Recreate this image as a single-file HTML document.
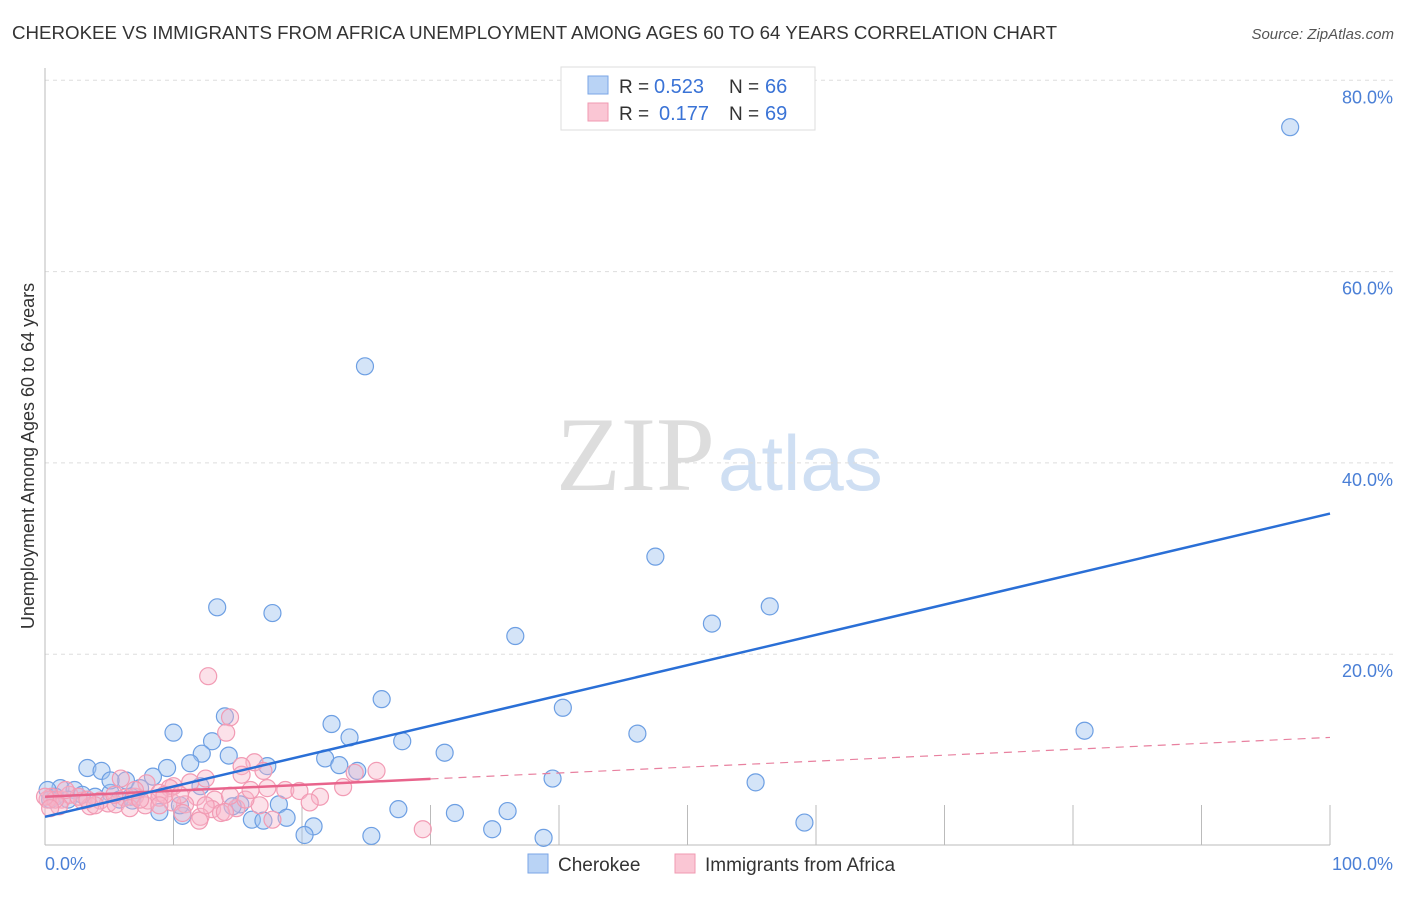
<!DOCTYPE html>
<html><head><meta charset="utf-8"><style>
body{margin:0;background:#fff;font-family:"Liberation Sans",sans-serif}
</style></head><body>
<svg id="c" width="1406" height="892" xmlns="http://www.w3.org/2000/svg">
<text x="12" y="39" font-size="18" fill="#333" textLength="1045" lengthAdjust="spacingAndGlyphs">CHEROKEE VS IMMIGRANTS FROM AFRICA UNEMPLOYMENT AMONG AGES 60 TO 64 YEARS CORRELATION CHART</text>
<text x="1394" y="39" font-size="15" fill="#555" font-style="italic" text-anchor="end">Source: ZipAtlas.com</text>
<text x="715" y="490" font-size="106" fill="#ddd" text-anchor="end" font-family="Liberation Serif">ZIP</text>
<text x="718" y="490" font-size="78" fill="#cfdff3">atlas</text>
<g id="grid"></g>
<g id="marks"></g>
<text transform="translate(34,456) rotate(-90)" font-size="18" fill="#333" text-anchor="middle">Unemployment Among Ages 60 to 64 years</text>
<text x="45" y="870" font-size="18" fill="#4a7fd6">0.0%</text>
<text x="1393" y="870" font-size="18" fill="#4a7fd6" text-anchor="end">100.0%</text>
<g>
<rect x="561" y="67" width="254" height="63" fill="#fff" stroke="#ddd"/>
<rect x="588" y="76" width="20" height="18" fill="#b9d3f5" stroke="#7aa6e6"/>
<rect x="588" y="103" width="20" height="18" fill="#fac6d4" stroke="#f09ab2"/>
<text x="619" y="93" font-size="19" fill="#333">R =</text>
<text x="654" y="93" font-size="20" fill="#3a73d6">0.523</text>
<text x="729" y="93" font-size="19" fill="#333">N =</text>
<text x="765" y="93" font-size="20" fill="#3a73d6">66</text>
<text x="619" y="120" font-size="19" fill="#333">R =</text>
<text x="659" y="120" font-size="20" fill="#3a73d6">0.177</text>
<text x="729" y="120" font-size="19" fill="#333">N =</text>
<text x="765" y="120" font-size="20" fill="#3a73d6">69</text>
</g>
<g>
<rect x="528" y="854" width="20" height="19" fill="#b9d3f5" stroke="#7aa6e6"/>
<text x="558" y="871" font-size="19" fill="#333">Cherokee</text>
<rect x="675" y="854" width="20" height="19" fill="#fac6d4" stroke="#f09ab2"/>
<text x="705" y="871" font-size="19" fill="#333">Immigrants from Africa</text>
</g>
</svg>
<script>
const yTicks=[20,40,60,80];
const xTicks=[10,20,30,40,50,60,70,80,90,100];
const cherokeeX=[96.9,24.9,47.5,13.4,17.7,56.4,51.9,36.6,26.2,40.3,80.9,10.0,46.1,22.3,23.7,14.0,13.0,27.8,31.1,12.2,14.3,21.8,11.3,22.9,17.3,24.3,3.3,4.4,9.5,8.4,39.5,55.3,6.3,12.1,7.4,1.2,0.2,2.3,5.1,2.9,6.7,0.8,5.8,15.2,18.2,14.6,27.5,8.9,10.7,31.9,36.0,16.1,17.0,18.8,20.9,59.1,34.8,20.2,25.4,38.8,6.8,1.8,3.9,10.5,5.1,0.4];
const cherokeeY=[75.1,50.1,30.2,24.9,24.3,25.0,23.2,21.9,15.3,14.4,12.0,11.8,11.7,12.7,11.3,13.5,10.9,10.9,9.7,9.6,9.4,9.1,8.6,8.4,8.3,7.8,8.1,7.8,8.1,7.2,7.0,6.6,6.8,6.2,6.0,6.0,5.8,5.8,5.5,5.3,5.1,5.1,4.8,4.3,4.3,4.1,3.8,3.5,3.1,3.4,3.6,2.7,2.6,2.9,2.0,2.4,1.7,1.1,1.0,0.8,4.7,4.8,5.1,4.2,6.8,4.8];
const africaX=[12.7,14.4,14.1,16.3,15.3,17.0,25.8,24.1,15.3,12.5,5.9,7.9,11.3,10.0,9.7,17.3,18.7,19.8,23.2,8.9,11.8,7.0,21.4,13.2,6.2,0.5,1.3,2.9,4.3,1.9,4.9,8.0,10.9,1.1,3.5,7.8,9.9,5.5,14.9,13.0,13.7,12.1,14.0,10.7,16.7,17.7,12.0,29.4,0.2,0.8,0,2.6,3.9,6.6,8.9,5.4,9.3,0.4,1.6,7.0,15.6,16.0,20.6,8.9,10.5,14.4,12.5,7.4,3.3];
const africaY=[17.7,13.4,11.8,8.7,8.3,7.8,7.8,7.6,7.4,7.0,7.0,6.5,6.6,6.2,6.0,6.0,5.8,5.7,6.1,5.5,5.1,5.1,5.1,4.8,5.0,5.1,4.8,4.7,4.7,5.3,4.4,4.7,4.3,4.1,4.1,4.2,4.5,4.3,3.9,3.8,3.4,3.0,3.5,3.4,4.2,2.7,2.6,1.7,4.8,4.8,5.1,5.1,4.2,3.9,5.0,5.3,5.3,3.9,5.8,5.8,4.8,5.8,4.5,4.2,5.3,5.2,4.2,4.8,4.8];
const blueTrend=[3.0,34.7];
const pinkTrend=[5.1,11.3];
const pinkSolidEnd=30;
const NS="http://www.w3.org/2000/svg";
const X=v=>45+v*12.85, Y=v=>845.5-v*9.565;
const g=document.getElementById('grid'), m=document.getElementById('marks');
function mk(p,t,a){const e=document.createElementNS(NS,t);for(const k in a)e.setAttribute(k,a[k]);p.appendChild(e);return e;}
yTicks.forEach(t=>{
 const l=mk(g,'line',{x1:45,x2:1393,y1:Y(t),y2:Y(t),stroke:'#ddd','stroke-dasharray':'4,4'});
 
 
 const tx=mk(g,'text',{x:1393,y:Y(t)+23,'font-size':18,fill:'#4a7fd6','text-anchor':'end'});
 tx.textContent=t.toFixed(1)+'%';
 
 
});
xTicks.forEach(t=>{
 const l=mk(g,'line',{x1:X(t),x2:X(t),y1:805,y2:845,stroke:'#bbb'});
 
 
});
let a=mk(g,'line',{x1:45,x2:45,y1:68,y2:845,stroke:'#bbb'});


a=mk(g,'line',{x1:45,x2:1330,y1:845,y2:845,stroke:'#bbb'});


cherokeeX.forEach((x,i)=>{
 const c=mk(m,'circle',{cx:X(x),cy:Y(cherokeeY[i]),r:8.5,fill:'rgba(160,196,240,0.45)',stroke:'#6d9fe3','stroke-width':1.2});
 
 
});
africaX.forEach((x,i)=>{
 const c=mk(m,'circle',{cx:X(x),cy:Y(africaY[i]),r:8.5,fill:'rgba(248,180,200,0.4)',stroke:'#f29bb4','stroke-width':1.2});
 
 
});
const pAt=x=>pinkTrend[0]+(pinkTrend[1]-pinkTrend[0])*x/100;
let l=mk(m,'line',{x1:X(pinkSolidEnd),y1:Y(pAt(pinkSolidEnd)),x2:X(100),y2:Y(pinkTrend[1]),stroke:'#e8809f','stroke-width':1.2,'stroke-dasharray':'8,6'});


l=mk(m,'line',{x1:X(0),y1:Y(pinkTrend[0]),x2:X(pinkSolidEnd),y2:Y(pAt(pinkSolidEnd)),stroke:'#e8648c','stroke-width':2.5});


l=mk(m,'line',{x1:X(0),y1:Y(blueTrend[0]),x2:X(100),y2:Y(blueTrend[1]),stroke:'#2a6fd6','stroke-width':2.5});


</script>
</body></html>
